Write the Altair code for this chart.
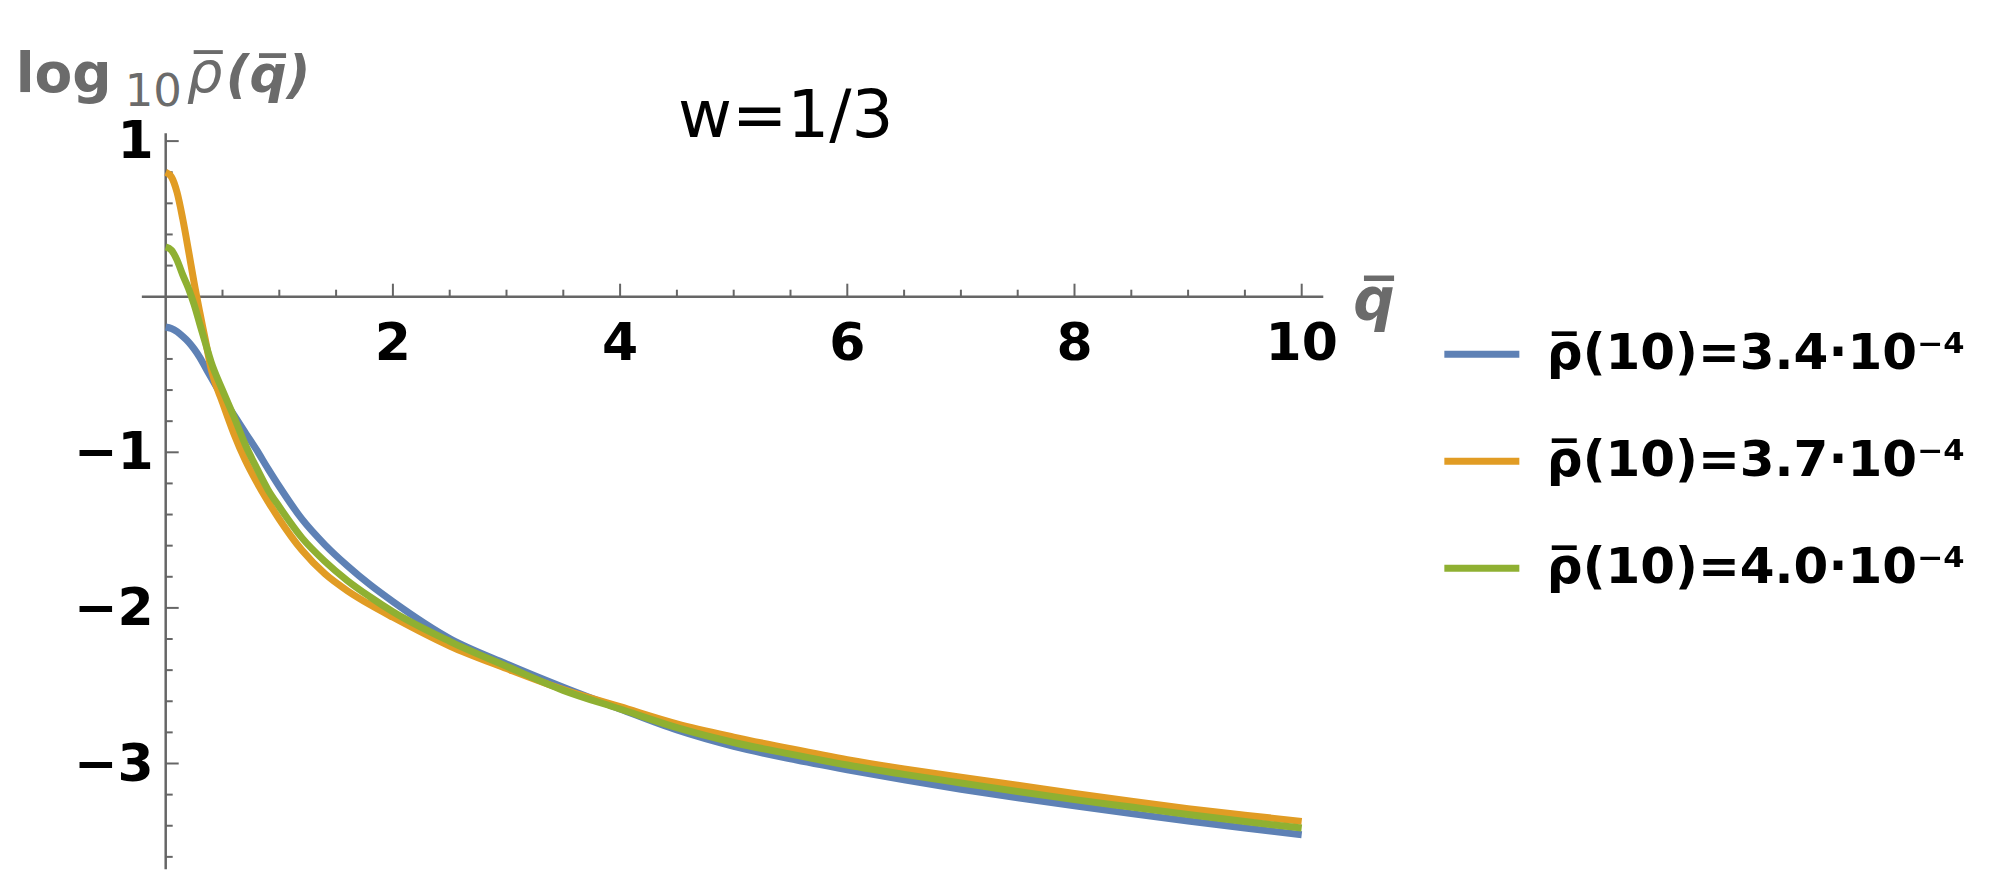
import altair as alt
import pandas as pd

# ---------------- data ----------------
q = [0, 0.05, 0.1, 0.15, 0.2, 0.25, 0.3, 0.35, 0.4, 0.5, 0.6, 0.7, 0.8, 0.9, 1.0,
     1.2, 1.4, 1.6, 1.8, 2.0, 2.5, 3.0, 3.5, 4.0, 4.5, 5.0, 5.5, 6.0, 6.5, 7.0,
     7.5, 8.0, 8.5, 9.0, 9.5, 10.0]

blue = [-0.195, -0.205, -0.225, -0.255, -0.29, -0.335, -0.39, -0.455, -0.52, -0.645,
        -0.76, -0.873, -0.985, -1.105, -1.22, -1.43, -1.593, -1.73, -1.852, -1.96,
        -2.197, -2.36, -2.51, -2.65, -2.785, -2.89, -2.97, -3.04, -3.105, -3.165,
        -3.22, -3.272, -3.322, -3.37, -3.415, -3.458]

orange = [0.80, 0.77, 0.67, 0.50, 0.30, 0.09, -0.10, -0.28, -0.465, -0.68,
          -0.88, -1.05, -1.19, -1.315, -1.43, -1.63, -1.78, -1.89, -1.98, -2.06,
          -2.245, -2.39, -2.525, -2.635, -2.745, -2.83, -2.905, -2.975, -3.035, -3.088,
          -3.14, -3.193, -3.243, -3.29, -3.332, -3.372]

green = [0.32, 0.30, 0.235, 0.14, 0.055, -0.05, -0.175, -0.30, -0.42, -0.6,
         -0.77, -0.95, -1.1, -1.24, -1.35, -1.55, -1.7, -1.825, -1.93, -2.025,
         -2.215, -2.375, -2.53, -2.65, -2.77, -2.865, -2.94, -3.01, -3.07, -3.125,
         -3.18, -3.232, -3.28, -3.328, -3.373, -3.415]

series_labels = ["\u03c1\u0305(10)=3.4\u00b710\u207b\u2074",
                 "\u03c1\u0305(10)=3.7\u00b710\u207b\u2074",
                 "\u03c1\u0305(10)=4.0\u00b710\u207b\u2074"]
series_colors = ["#5E81B5", "#E19C24", "#8FB032"]

x_major = [2, 4, 6, 8, 10]
x_major_labels = ["2", "4", "6", "8", "10"]
x_minor = [0.5, 1, 1.5, 2.5, 3, 3.5, 4.5, 5, 5.5, 6.5, 7, 7.5, 8.5, 9, 9.5]
y_major = [1, -1, -2, -3]
y_major_labels = ["1", "\u22121", "\u22122", "\u22123"]
y_minor = [0.8, 0.6, 0.4, 0.2, -0.2, -0.4, -0.6, -0.8, -1.2, -1.4, -1.6, -1.8,
           -2.2, -2.4, -2.6, -2.8, -3.2, -3.4, -3.6]

title_text = "w=1/3"
y_title_log = "log"
y_title_sub = "10"
y_title_rho = "\u03c1\u0305"
y_title_arg = "(q\u0305)"
x_title_text = "q\u0305"

# ---------------- layout ----------------
PX_X = 113.6
PX_Y = 155.6
XMIN, XMAX = -0.21, 10.19
YMIN, YMAX = -3.68, 1.05
W = (XMAX - XMIN) * PX_X
H = (YMAX - YMIN) * PX_Y
PAD_L = 165.7 + XMIN * PX_X - 8
PAD_T = 296.7 - YMAX * PX_Y - 8
PAD_R = 1993 - 16 - PAD_L - W
PAD_B = 895 - 16 - PAD_T - H

GREY = "#666666"
TGREY = "#6b6b6b"
FONT = "DejaVu Sans"

xs = alt.Scale(domain=[XMIN, XMAX], nice=False, zero=False)
ys = alt.Scale(domain=[YMIN, YMAX], nice=False, zero=False)

n = len(q)
df = pd.DataFrame({
    "q": q * 3,
    "v": blue + orange + green,
    "s": [series_labels[0]] * n + [series_labels[1]] * n + [series_labels[2]] * n,
})

lines = alt.Chart(df).mark_line(strokeWidth=7, interpolate="monotone").encode(
    x=alt.X("q:Q", scale=xs, axis=None),
    y=alt.Y("v:Q", scale=ys, axis=None),
    color=alt.Color(
        "s:N",
        scale=alt.Scale(domain=series_labels, range=series_colors),
        title=None,
        legend=alt.Legend(
            orient="none", legendX=1299, legendY=180,
            symbolType="stroke", symbolSize=75 * 75, symbolStrokeWidth=7,
            labelFont=FONT, labelFontSize=50, labelFontWeight="bold",
            labelColor="black", labelOffset=24, labelLimit=0,
            rowPadding=41, padding=0,
        ),
    ),
)

one = pd.DataFrame({"a": [0]})

x_axis_line = alt.Chart(one).mark_rule(color=GREY, strokeWidth=2.5).encode(
    y=alt.YDatum(0, axis=None), x=alt.value(0), x2=alt.value(W))
y_axis_line = alt.Chart(one).mark_rule(color=GREY, strokeWidth=2.5).encode(
    x=alt.XDatum(0, axis=None), y=alt.value(0), y2=alt.value(H))

xmaj = pd.DataFrame({"t": x_major, "lab": x_major_labels})
xmin_df = pd.DataFrame({"t": x_minor})
ymaj = pd.DataFrame({"t": y_major, "lab": y_major_labels})
ymin_df = pd.DataFrame({"t": y_minor})

x_major_ticks = alt.Chart(xmaj).mark_tick(orient="vertical", size=13, thickness=2,
                                          color=GREY, yOffset=-6.5, opacity=1).encode(
    x=alt.X("t:Q", axis=None), y=alt.YDatum(0, axis=None))
x_minor_ticks = alt.Chart(xmin_df).mark_tick(orient="vertical", size=7, thickness=2,
                                             color=GREY, yOffset=-3.5, opacity=1).encode(
    x=alt.X("t:Q", axis=None), y=alt.YDatum(0, axis=None))
y_major_ticks = alt.Chart(ymaj).mark_tick(orient="horizontal", size=13, thickness=2,
                                          color=GREY, xOffset=6.5, opacity=1).encode(
    y=alt.Y("t:Q", axis=None), x=alt.XDatum(0, axis=None))
y_minor_ticks = alt.Chart(ymin_df).mark_tick(orient="horizontal", size=7, thickness=2,
                                             color=GREY, xOffset=3.5, opacity=1).encode(
    y=alt.Y("t:Q", axis=None), x=alt.XDatum(0, axis=None))

x_labels = alt.Chart(xmaj).mark_text(font=FONT, fontSize=52, fontWeight="bold",
                                     color="black", align="center",
                                     baseline="alphabetic", dy=63).encode(
    x=alt.X("t:Q", axis=None), y=alt.YDatum(0, axis=None), text="lab:N")
y_labels = alt.Chart(ymaj).mark_text(font=FONT, fontSize=52, fontWeight="bold",
                                     color="black", align="right",
                                     baseline="alphabetic", dx=-12, dy=17).encode(
    y=alt.Y("t:Q", axis=None), x=alt.XDatum(0, axis=None), text="lab:N")

# y-axis title in pieces: bold "log", regular subscript "10", italic rho, bold italic (q)
t_log = alt.Chart(one).mark_text(text=y_title_log, font=FONT, fontSize=55,
                                 fontWeight="bold", color=TGREY, align="left",
                                 baseline="alphabetic", dx=-150, dy=-41).encode(
    x=alt.XDatum(0, axis=None), y=alt.value(0))
t_sub = alt.Chart(one).mark_text(text=y_title_sub, font=FONT, fontSize=45,
                                 color=TGREY, align="left",
                                 baseline="alphabetic", dx=-41, dy=-27).encode(
    x=alt.XDatum(0, axis=None), y=alt.value(0))
t_rho = alt.Chart(one).mark_text(text=y_title_rho, font=FONT, fontSize=56,
                                 fontStyle="italic", color=TGREY, align="left",
                                 baseline="alphabetic", dx=21, dy=-41).encode(
    x=alt.XDatum(0, axis=None), y=alt.value(0))
t_arg = alt.Chart(one).mark_text(text=y_title_arg, font=FONT, fontSize=52,
                                 fontWeight="bold", fontStyle="italic", color=TGREY,
                                 align="left", baseline="alphabetic",
                                 dx=60, dy=-41).encode(
    x=alt.XDatum(0, axis=None), y=alt.value(0))

x_title = alt.Chart(one).mark_text(text=x_title_text, font=FONT, fontSize=58,
                                   fontWeight="bold", fontStyle="italic", color=TGREY,
                                   align="left", baseline="alphabetic", dx=30, dy=23).encode(
    x=alt.value(W), y=alt.YDatum(0, axis=None))
main_title = alt.Chart(one).mark_text(text=title_text, font=FONT, fontSize=66,
                                      color="black", align="center",
                                      baseline="alphabetic").encode(
    x=alt.value(644), y=alt.value(4))

chart = alt.layer(
    x_axis_line, y_axis_line,
    x_minor_ticks, x_major_ticks, y_minor_ticks, y_major_ticks,
    lines,
    x_labels, y_labels, t_log, t_sub, t_rho, t_arg, x_title, main_title,
).properties(
    width=W, height=H,
    autosize=alt.AutoSizeParams(type="none"),
    padding={"left": PAD_L, "top": PAD_T, "right": PAD_R, "bottom": PAD_B},
    background="white",
).configure_view(strokeWidth=0)

chart.save("out.html", embed_options={"renderer": "svg", "actions": False})
